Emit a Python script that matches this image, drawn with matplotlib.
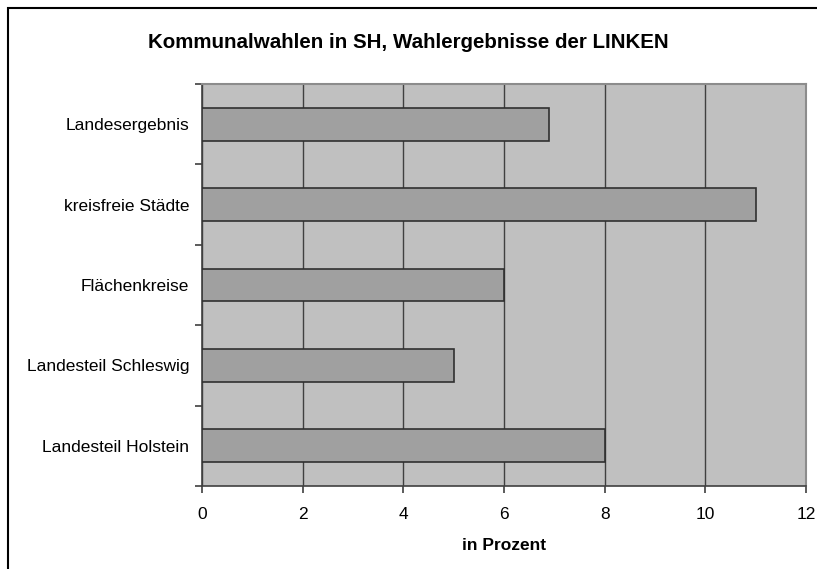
import matplotlib
matplotlib.use('Agg')
import matplotlib.pyplot as plt
import numpy as np

plt.rcParams['font.family'] = ['Liberation Sans', 'DejaVu Sans']

kategorien = ['Landesergebnis', 'kreisfreie Städte', 'Flächenkreise',
              'Landesteil Schleswig', 'Landesteil Holstein']
werte = [6.9, 11.0, 6.0, 5.0, 8.0]
x_ticks = [0, 2, 4, 6, 8, 10, 12]

fig = plt.figure(figsize=(8.17, 5.69), dpi=100)
ax = fig.add_axes([202 / 817, 1 - 486 / 569, 604 / 817, 402 / 569])
ax.set_facecolor('#c0c0c0')

pos = np.arange(len(kategorien))
ax.barh(pos, werte, height=0.41, color='#a0a0a0', edgecolor='#303030',
        linewidth=1.2, zorder=3)

ax.set_xlim(0, 12)
ax.set_ylim(len(kategorien) - 0.5, -0.5)
ax.set_xticks(x_ticks)
ax.set_xticklabels([str(t) for t in x_ticks], fontsize=12.5)
ax.xaxis.grid(True, color='#404040', linewidth=1, zorder=1)
ax.set_axisbelow(True)

# Kategorieachse: Striche zwischen den Kategorien, Beschriftung in der Mitte
ax.set_yticks(np.arange(-0.5, len(kategorien), 1))
ax.set_yticklabels([])
ax.set_yticks(pos, minor=True)
ax.set_yticklabels(kategorien, minor=True, fontsize=12.5)
ax.tick_params(axis='y', which='minor', length=0, pad=9)
ax.tick_params(axis='y', which='major', length=5, width=1.2, direction='out', color='#404040')
ax.tick_params(axis='x', length=5, width=1.2, direction='out', color='#404040', pad=10)

for s in ['top', 'right']:
    ax.spines[s].set_color('#8c8c8c')
    ax.spines[s].set_linewidth(1.5)
for s in ['left', 'bottom']:
    ax.spines[s].set_color('#404040')
    ax.spines[s].set_linewidth(1.2)

ax.set_xlabel('in Prozent', fontsize=12.5, fontweight='bold', labelpad=12)
fig.text(408 / 817, 1 - 42 / 569, 'Kommunalwahlen in SH, Wahlergebnisse der LINKEN',
         ha='center', va='center', fontsize=14.8, fontweight='bold')

# Rahmen um das Diagramm (rechts und unten abgeschnitten)
fig.patches.append(plt.Rectangle((8 / 817, -0.05), 1.1, 1.05 - 8 / 569,
                                 transform=fig.transFigure,
                                 fill=False, edgecolor='black', linewidth=1.5))

fig.savefig('out.png', dpi=100)
